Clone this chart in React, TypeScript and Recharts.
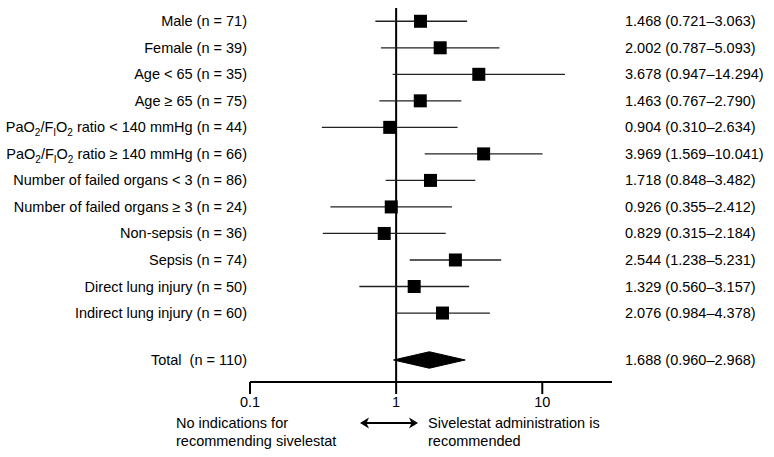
import React from 'react'
import {
  ComposedChart,
  Scatter,
  Area,
  XAxis,
  YAxis,
  ReferenceLine,
} from 'recharts'

// subgroup labels, "_x" marks a subscript character
const labels = [
  'Male (n = 71)',
  'Female (n = 39)',
  'Age < 65 (n = 35)',
  'Age ≥ 65 (n = 75)',
  'PaO_2/F_IO_2 ratio < 140 mmHg (n = 44)',
  'PaO_2/F_IO_2 ratio ≥ 140 mmHg (n = 66)',
  'Number of failed organs < 3 (n = 86)',
  'Number of failed organs ≥ 3 (n = 24)',
  'Non-sepsis (n = 36)',
  'Sepsis (n = 74)',
  'Direct lung injury (n = 50)',
  'Indirect lung injury (n = 60)',
]
const estimates = [1.468, 2.002, 3.678, 1.463, 0.904, 3.969, 1.718, 0.926, 0.829, 2.544, 1.329, 2.076]
const lower = [0.721, 0.787, 0.947, 0.767, 0.31, 1.569, 0.848, 0.355, 0.315, 1.238, 0.56, 0.984]
const upper = [3.063, 5.093, 14.294, 2.79, 2.634, 10.041, 3.482, 2.412, 2.184, 5.231, 3.157, 4.378]

const totalLabel = 'Total  (n = 110)'
const totalEstimate = 1.688
const totalLower = 0.96
const totalUpper = 2.968

const xTicks = [0.1, 1, 10]

// row positions (1 = top row), total sits a bit lower after a gap
const rows = labels.map((_, i) => i + 1)
const TOTAL_ROW = 13.77
const allRows = [...rows, TOTAL_ROW]
const allLabels = [...labels, totalLabel]
const fmt = (v: number) => v.toFixed(3)
const allTexts = [
  ...estimates.map((e, i) => `${fmt(e)} (${fmt(lower[i])}–${fmt(upper[i])})`),
  `${fmt(totalEstimate)} (${fmt(totalLower)}–${fmt(totalUpper)})`,
]

const points = estimates.map((e, i) => ({ x: e, y: rows[i] }))
// diamond for the pooled estimate, drawn as a range area
const diamond = [
  { x: totalLower, band: [TOTAL_ROW, TOTAL_ROW] },
  { x: totalEstimate, band: [TOTAL_ROW - 0.31, TOTAL_ROW + 0.31] },
  { x: totalUpper, band: [TOTAL_ROW, TOTAL_ROW] },
]

const FONT = '"Liberation Sans", Arial, sans-serif'
const FS = 14.5

const renderLabel = (label: string) => {
  const out: React.ReactNode[] = []
  let buf = ''
  let shifted = false
  let k = 0
  for (let i = 0; i < label.length; i++) {
    if (label[i] === '_' && i + 1 < label.length) {
      if (buf) {
        out.push(<tspan key={k++} dy={shifted ? -4 : 0}>{buf}</tspan>)
        shifted = false
        buf = ''
      }
      out.push(
        <tspan key={k++} dy={shifted ? 0 : 4} fontSize={10}>
          {label[i + 1]}
        </tspan>
      )
      shifted = true
      i++
    } else {
      buf += label[i]
    }
  }
  if (buf) out.push(<tspan key={k++} dy={shifted ? -4 : 0}>{buf}</tspan>)
  return out
}

const LeftTick = (props: any) => {
  const { x, y, payload } = props
  const idx = allRows.indexOf(payload.value)
  const label = idx >= 0 ? allLabels[idx] : ''
  return (
    <text x={x} y={y + 5} textAnchor="end" fontSize={FS} fill="#000" style={{ whiteSpace: 'pre' }}>
      {renderLabel(label)}
    </text>
  )
}

const RightTick = (props: any) => {
  const { x, y, payload } = props
  const idx = allRows.indexOf(payload.value)
  return (
    <text x={x} y={y + 5} textAnchor="start" fontSize={FS} fill="#000">
      {idx >= 0 ? allTexts[idx] : ''}
    </text>
  )
}

const Square = (props: any) => {
  const { cx, cy } = props
  const s = 13
  return <rect x={cx - s / 2} y={cy - s / 2} width={s} height={s} fill="#000" />
}

export default function App() {
  return (
    <div style={{ position: 'absolute', left: 0, top: 0, width: 774, height: 457, background: '#fff', fontFamily: FONT }}>
      <ComposedChart
        width={774}
        height={457}
        data={diamond}
        margin={{ top: 8, right: 0, left: 0, bottom: 0 }}
      >
        <XAxis
          dataKey="x"
          type="number"
          scale="log"
          domain={[0.1, 30]}
          allowDataOverflow
          ticks={xTicks}
          tickFormatter={(v: number) => String(v)}
          height={75}
          tickSize={12}
          tickMargin={3}
          axisLine={{ stroke: '#000', strokeWidth: 2 }}
          tickLine={{ stroke: '#000', strokeWidth: 2 }}
          tick={{ fontSize: FS, fill: '#000' }}
        />
        <YAxis
          yAxisId="left"
          dataKey="y"
          type="number"
          domain={[0.5, 14.6]}
          reversed
          allowDataOverflow
          ticks={allRows}
          interval={0}
          width={250}
          tickSize={0}
          tickMargin={3}
          axisLine={false}
          tickLine={false}
          tick={<LeftTick />}
        />
        <YAxis
          yAxisId="right"
          orientation="right"
          type="number"
          domain={[0.5, 14.6]}
          reversed
          allowDataOverflow
          ticks={allRows}
          interval={0}
          width={162}
          tickSize={0}
          tickMargin={13}
          axisLine={false}
          tickLine={false}
          tick={<RightTick />}
        />
        <ReferenceLine yAxisId="left" x={1} stroke="#000" strokeWidth={2} />
        {points.map((p, i) => (
          <ReferenceLine
            key={i}
            yAxisId="left"
            segment={[
              { x: lower[i], y: p.y },
              { x: upper[i], y: p.y },
            ]}
            stroke="#222"
            strokeWidth={1.3}
          />
        ))}
        <Scatter
          yAxisId="left"
          data={points}
          dataKey="y"
          shape={<Square />}
          isAnimationActive={false}
        />
        <Area
          yAxisId="left"
          dataKey="band"
          type="linear"
          stroke="#000"
          strokeWidth={1}
          fill="#000"
          fillOpacity={1}
          dot={false}
          activeDot={false}
          isAnimationActive={false}
        />
      </ComposedChart>
      <div style={{ position: 'absolute', left: 176, top: 414, fontSize: FS, lineHeight: '18px', color: '#000' }}>
        No indications for
        <br />
        recommending sivelestat
      </div>
      <div style={{ position: 'absolute', left: 428, top: 414, fontSize: FS, lineHeight: '18px', color: '#000' }}>
        Sivelestat administration is
        <br />
        recommended
      </div>
      <svg style={{ position: 'absolute', left: 0, top: 0 }} width={774} height={457}>
        <line x1={364} y1={423} x2={414} y2={423} stroke="#000" strokeWidth={2} />
        <polygon points="360,423 369,417.5 366.5,423 369,428.5" fill="#000" />
        <polygon points="418,423 409,417.5 411.5,423 409,428.5" fill="#000" />
      </svg>
    </div>
  )
}
